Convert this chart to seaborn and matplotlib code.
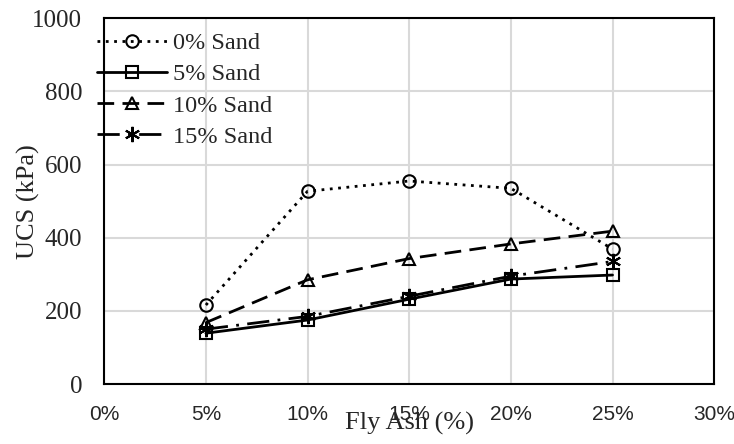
import matplotlib
matplotlib.use("Agg")
import matplotlib.pyplot as plt
import seaborn as sns
import pandas as pd
from matplotlib.ticker import PercentFormatter

fly_ash = [0.05, 0.10, 0.15, 0.20, 0.25]
sand_labels = ["0% Sand", "5% Sand", "10% Sand", "15% Sand"]
ucs_0 = [216, 527, 555, 535, 369]
ucs_5 = [139, 175, 232, 287, 298]
ucs_10 = [168, 285, 343, 383, 418]
ucs_15 = [150, 185, 240, 295, 335]

df = pd.DataFrame({
    "fly_ash": fly_ash * 4,
    "ucs": ucs_0 + ucs_5 + ucs_10 + ucs_15,
    "mix": [lab for lab in sand_labels for _ in fly_ash],
})

sns.set_style("white")
plt.rcParams["font.family"] = ["Liberation Serif", "DejaVu Serif"]

fig, ax = plt.subplots(figsize=(7.34, 4.44), dpi=100)

styles = {
    "0% Sand": dict(ls=(0, (1, 2)), marker="o", ms=9),
    "5% Sand": dict(ls="-", marker="s", ms=9),
    "10% Sand": dict(ls=(0, (6, 3)), marker="^", ms=9),
    "15% Sand": dict(ls=(0, (8, 3, 1, 3)), marker=(6, 2, 0), ms=11),
}
for lab in sand_labels:
    sub = df[df["mix"] == lab]
    st = styles[lab]
    sns.lineplot(data=sub, x="fly_ash", y="ucs", ax=ax, color="black", lw=2,
                 linestyle=st["ls"], marker=st["marker"], markersize=st["ms"],
                 markerfacecolor="none", markeredgecolor="black", markeredgewidth=1.5,
                 label=lab)

ax.set_xlim(0, 0.30)
ax.set_ylim(0, 1000)
ax.set_xticks([0, 0.05, 0.10, 0.15, 0.20, 0.25, 0.30])
ax.set_yticks([0, 200, 400, 600, 800, 1000])
ax.xaxis.set_major_formatter(PercentFormatter(1.0, decimals=0))
ax.grid(True, color="#d9d9d9", lw=1.5)
for s in ax.spines.values():
    s.set_color("black")
    s.set_linewidth(1.5)
ax.tick_params(axis="y", labelsize=18, length=0, pad=16)
ax.tick_params(axis="x", labelsize=15, length=0, pad=15)
for t in ax.get_xticklabels():
    t.set_family(["Liberation Sans", "DejaVu Sans"])

ax.set_xlabel("Fly Ash (%)", fontsize=19)
ax.set_ylabel("UCS (kPa)", fontsize=19)
ax.xaxis.set_label_coords(0.5, -0.075)
ax.yaxis.set_label_coords(-0.105, 0.5)

leg = ax.legend(loc="upper left", bbox_to_anchor=(-0.012, 0.962), frameon=False,
                fontsize=17.5, handlelength=2.9, handletextpad=0.25, labelspacing=0.38,
                borderaxespad=0, borderpad=0)
leg.set_zorder(5)

fig.subplots_adjust(left=0.142, right=0.973, top=0.959, bottom=0.135)
fig.savefig("out.png", dpi=100)
